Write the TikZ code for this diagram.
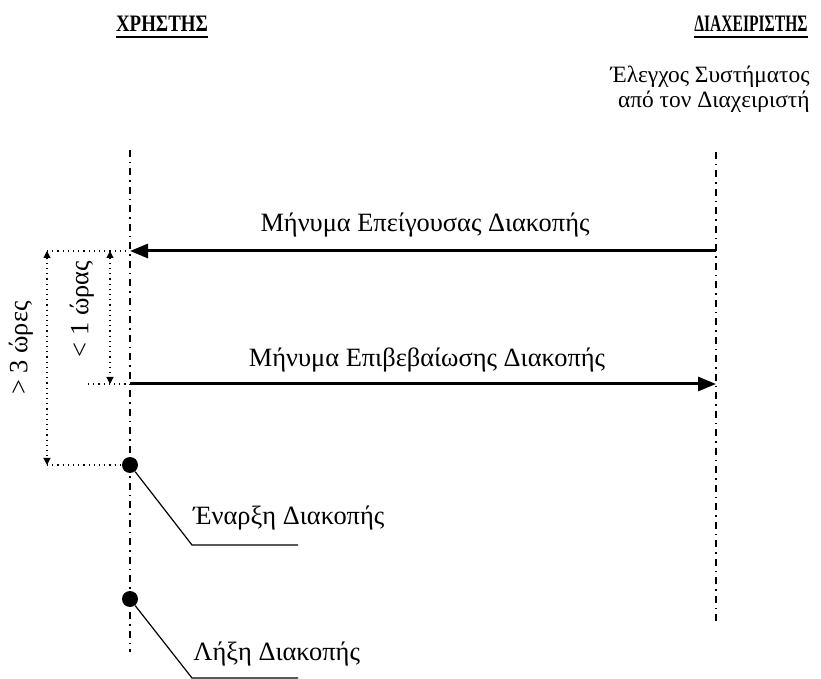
\documentclass[tikz,border=0pt]{standalone}
\usepackage{fontspec}
\setmainfont{Liberation Serif}
\newfontfamily\titlefont[FakeStretch=0.8]{Liberation Serif}
\newfontfamily\titlefontnarrow[FakeStretch=0.66]{Liberation Serif}
\usetikzlibrary{arrows.meta,positioning,calc}

\begin{document}
\begin{tikzpicture}[
    x=0.5pt, y=-0.5pt,
    title/.style={font=\titlefont\fontsize{11.8}{13}\selectfont\bfseries, inner sep=0pt},
    lbl/.style={font=\fontsize{13.2}{15}\selectfont, inner sep=0pt},
    sublbl/.style={font=\fontsize{11.7}{12.5}\selectfont, inner sep=0pt},
    lifeline/.style={line width=0.75pt, dash pattern=on 3.5pt off 2.5pt on 0.75pt off 2.5pt},
    msg/.style={line width=1.5pt, -{Triangle[length=9pt, width=7pt]}},
    dim/.style={line width=0.6pt, dotted},
    dimarrow/.style={line width=0.6pt, dotted, {Triangle[length=3.5pt, width=3.5pt]}-{Triangle[length=3.5pt, width=3.5pt]}},
    event/.style={circle, fill=black, inner sep=0pt, minimum size=8pt},
    leader/.style={line width=0.6pt},
    uline/.style={line width=1.3pt}
]
\useasboundingbox (0,0) rectangle (821,679);

% Headers
\node[title, anchor=base] (user) at (162,32) {ΧΡΗΣΤΗΣ};
\node[title, font=\titlefontnarrow\fontsize{11.8}{13}\selectfont\bfseries, anchor=base] (admin) at (751,32) {ΔΙΑΧΕΙΡΙΣΤΗΣ};
\draw[uline] ($(user.base west)+(0,5)$) -- ($(user.base east)+(0,5)$);
\draw[uline] ($(admin.base west)+(0,5)$) -- ($(admin.base east)+(0,5)$);
\node[sublbl, align=right, anchor=east] (check) at (810,89) {Έλεγχος Συστήματος\\από τον Διαχειριστή};

% Lifelines
\coordinate (utop) at (130,150);
\coordinate (ubot) at (130,652);
\coordinate (atop) at (716,152);
\coordinate (abot) at (716,626);
\draw[lifeline] (utop) -- (ubot);
\draw[lifeline] (atop) -- (abot);

% Messages
\coordinate (m1a) at (716,251);
\coordinate (m1u) at (130,251);
\coordinate (m2u) at (130,384);
\coordinate (m2a) at (716,384);
\draw[msg] (m1a) -- (m1u);
\draw[msg] (m2u) -- (m2a);
\node[lbl, anchor=base] (m1) at (425,232) {Μήνυμα Επείγουσας Διακοπής};
\node[lbl, anchor=base] (m2) at (427,367) {Μήνυμα Επιβεβαίωσης Διακοπής};

% Events
\node[event] (start) at (130,465) {};
\node[event] (end) at (130,599) {};
\coordinate (k1) at (192,545);
\coordinate (k1e) at (298,545);
\coordinate (k2) at (192,678);
\coordinate (k2e) at (298,678);
\draw[leader] (start) -- (k1) -- (k1e);
\draw[leader] (end) -- (k2) -- (k2e);
\node[lbl, anchor=base west] (startlbl) at ($(k1)+(1,-20)$) {Έναρξη Διακοπής};
\node[lbl, anchor=base west] (endlbl) at ($(k2)+(1,-17)$) {Λήξη Διακοπής};

% Time limits
\coordinate (d1t) at (47,251);
\coordinate (d1b) at (47,465);
\coordinate (d2t) at (110,251);
\coordinate (d2b) at (110,384);
\coordinate (d2s) at (88,384);
\draw[dim] (d1t) -- (m1u);
\draw[dim] (d1b) -- (start);
\draw[dim] (d2s) -- (m2u);
\draw[dimarrow] (d1t) -- (d1b);
\draw[dimarrow] (d2t) -- (d2b);
\node[lbl, rotate=90] (more) at (21,348) {> 3 ώρες};
\node[lbl, rotate=90] (less) at (82,309) {< 1 ώρας};

\end{tikzpicture}
\end{document}
